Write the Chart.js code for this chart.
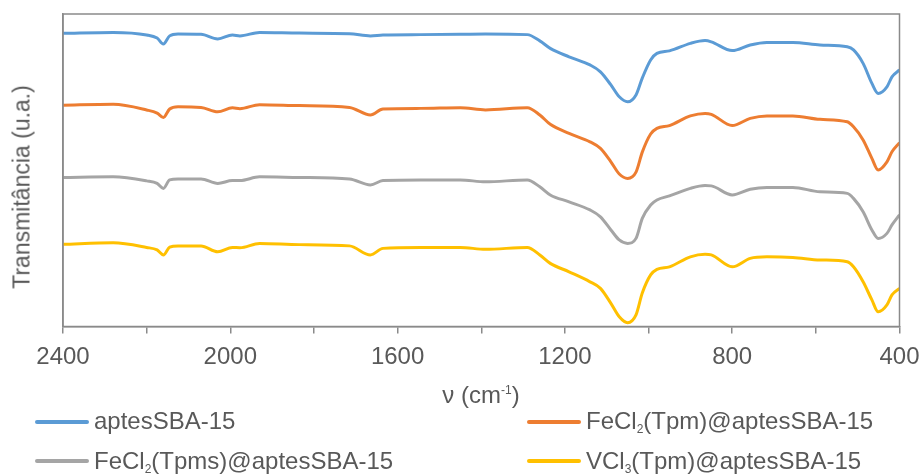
<!DOCTYPE html>
<html>
<head>
<meta charset="utf-8">
<script src="https://cdn.jsdelivr.net/npm/chart.js@4/dist/chart.umd.min.js"></script>
<style>
  html, body { margin: 0; padding: 0; background: #fff; }
  #wrap { position: relative; width: 922px; height: 475px; font-family: "Liberation Sans", Arial, sans-serif; color: #595959; }
  #chart { position: absolute; left: 0; top: 0; }
  .txt { position: absolute; white-space: nowrap; font-size: 24px; line-height: 24px; }
  .key { position: absolute; height: 4px; border-radius: 2px; width: 54px; }
  sub { font-size: 12px; vertical-align: -4px; line-height: 0; }
  sup { font-size: 12px; vertical-align: 9px; line-height: 0; }
  #ytitle { left: 22px; top: 187px; font-size: 23px; line-height: 23px; transform: translate(-50%, -50%) rotate(-90deg); }
</style>
</head>
<body>
<div id="wrap">
  <canvas id="chart" width="922" height="475"></canvas>
  <div class="txt" id="ytitle">Transmitância (u.a.)</div>
  <div class="txt" id="xtitle" style="left:481px; top:383px; transform: translateX(-50%);">ν (cm<sup>-1</sup>)</div>

  <div class="key" style="left:35px; top:420px; background:#5B9BD5"></div>
  <div class="txt" style="left:94px; top:409px;">aptesSBA-15</div>
  <div class="key" style="left:527px; top:420px; background:#ED7D31"></div>
  <div class="txt" style="left:586px; top:409px;">FeCl<sub>2</sub>(Tpm)@aptesSBA-15</div>
  <div class="key" style="left:35px; top:459px; background:#A5A5A5"></div>
  <div class="txt" style="left:94px; top:449px;">FeCl<sub>2</sub>(Tpms)@aptesSBA-15</div>
  <div class="key" style="left:527px; top:459px; background:#FFC000"></div>
  <div class="txt" style="left:586px; top:449px;">VCl<sub>3</sub>(Tpm)@aptesSBA-15</div>
</div>
<script>
// wavenumbers (cm-1), shared by all four spectra
const wavenumbers = [2400, 2280, 2200, 2175, 2160, 2145, 2125, 2070, 2030, 1995, 1977, 1930, 1835, 1715, 1665, 1635, 1545, 1450, 1390, 1290,
    1260, 1235, 1190, 1140, 1115, 1090, 1070, 1050, 1030, 1015, 995, 980, 950, 900, 865, 850, 800, 757, 717, 655,
    590, 525, 510, 487, 466, 451, 430, 418, 400];

// transmittance, arbitrary units (offset as in the figure)
const aptesSBA = [93.8, 94.1, 93.3, 92.3, 90.4, 93.0, 93.6, 93.5, 92.0, 93.3, 93.0, 94.1, 93.9, 93.7, 93.0, 93.3, 93.4, 93.5, 93.6, 93.4,
    91.4, 89.0, 86.3, 83.7, 81.5, 77.3, 73.5, 71.9, 74.1, 79.5, 85.3, 87.4, 88.2, 90.6, 91.5, 91.1, 88.3, 90.1, 90.9, 90.9,
    90.1, 89.5, 88.5, 84.2, 77.8, 74.6, 76.7, 79.9, 82.1];
const feTpm = [70.8, 71.1, 69.3, 68.3, 66.9, 69.6, 70.3, 70.1, 68.7, 70.0, 69.7, 71.0, 70.7, 70.1, 67.7, 69.6, 69.8, 70.0, 69.3, 70.0,
    67.7, 64.7, 61.8, 59.1, 57.0, 52.7, 48.8, 47.4, 49.4, 55.8, 61.6, 63.4, 64.3, 67.4, 68.2, 67.9, 64.3, 66.6, 67.4, 67.4,
    66.3, 65.5, 63.9, 59.7, 53.8, 50.1, 52.7, 55.9, 58.8];
const feTpms = [47.7, 47.9, 46.6, 45.8, 44.2, 46.9, 47.2, 47.2, 45.8, 46.7, 46.7, 47.9, 47.7, 47.2, 45.3, 46.7, 46.9, 46.9, 46.3, 46.9,
    44.7, 42.1, 39.9, 37.3, 35.1, 30.9, 27.7, 26.6, 28.2, 34.6, 38.9, 40.5, 41.8, 44.2, 45.1, 45.0, 42.1, 43.9, 44.5, 44.5,
    43.1, 42.6, 41.0, 36.7, 30.9, 28.2, 29.8, 32.5, 35.7];
const vTpm = [26.3, 26.8, 25.3, 24.5, 22.9, 25.4, 25.8, 25.8, 23.9, 25.3, 25.2, 26.6, 26.2, 25.8, 22.9, 25.0, 25.3, 25.3, 24.7, 25.3,
    22.9, 20.2, 17.5, 14.3, 12.2, 7.4, 3.1, 1.2, 3.7, 10.7, 16.5, 18.3, 19.1, 22.3, 23.1, 22.9, 19.1, 21.8, 22.3, 22.1,
    21.3, 20.7, 19.1, 14.3, 8.5, 4.7, 6.9, 10.1, 12.2];

const seriesNames = ['aptesSBA-15', 'FeCl2(Tpm)@aptesSBA-15', 'FeCl2(Tpms)@aptesSBA-15', 'VCl3(Tpm)@aptesSBA-15'];
const seriesValues = [aptesSBA, feTpm, feTpms, vTpm];
const colors = ['#5B9BD5', '#ED7D31', '#A5A5A5', '#FFC000'];

const axisGray = '#8a8a8a';
const font = { family: '"Liberation Sans", Arial, sans-serif', size: 24 };

// frame round the plot area (top and right edges)
const frame = {
    id: 'frame',
    afterDraw(chart) {
        const { ctx, chartArea } = chart;
        ctx.save();
        ctx.strokeStyle = axisGray;
        ctx.lineWidth = 1.5;
        ctx.strokeRect(chartArea.left, chartArea.top, chartArea.right - chartArea.left, chartArea.bottom - chartArea.top);
        ctx.restore();
    }
};

new Chart(document.getElementById('chart'), {
    type: 'line',
    data: {
        datasets: seriesValues.map((vals, i) => ({
            label: seriesNames[i],
            data: wavenumbers.map((w, j) => ({ x: w, y: vals[j] })),
            borderColor: colors[i],
            backgroundColor: colors[i],
            borderWidth: 3,
            pointRadius: 0,
            cubicInterpolationMode: 'monotone',
            fill: false
        }))
    },
    options: {
        responsive: false,
        animation: false,
        devicePixelRatio: 1,
        layout: { padding: { top: 14, right: 22.5, left: 0, bottom: 0 } },
        plugins: { legend: { display: false }, tooltip: { enabled: false } },
        scales: {
            x: {
                type: 'linear',
                reverse: true,
                min: 400,
                max: 2400,
                afterFit: (s) => { s.height = 148.5; s.paddingLeft = 0; s.paddingRight = 0; },
                border: { display: true, color: axisGray, width: 1.5 },
                grid: { drawOnChartArea: false, drawTicks: true, tickLength: 7, color: axisGray, lineWidth: 1.5 },
                ticks: {
                    stepSize: 200,
                    autoSkip: false,
                    maxRotation: 0,
                    padding: 9,
                    color: '#595959',
                    font,
                    callback: (v) => (v % 400 === 0 ? v : '')
                }
            },
            y: {
                min: 0,
                max: 100,
                afterFit: (s) => { s.width = 63; },
                border: { display: true, color: axisGray, width: 1.5 },
                grid: { display: false },
                ticks: { display: false }
            }
        }
    },
    plugins: [frame]
});
</script>
</body>
</html>
